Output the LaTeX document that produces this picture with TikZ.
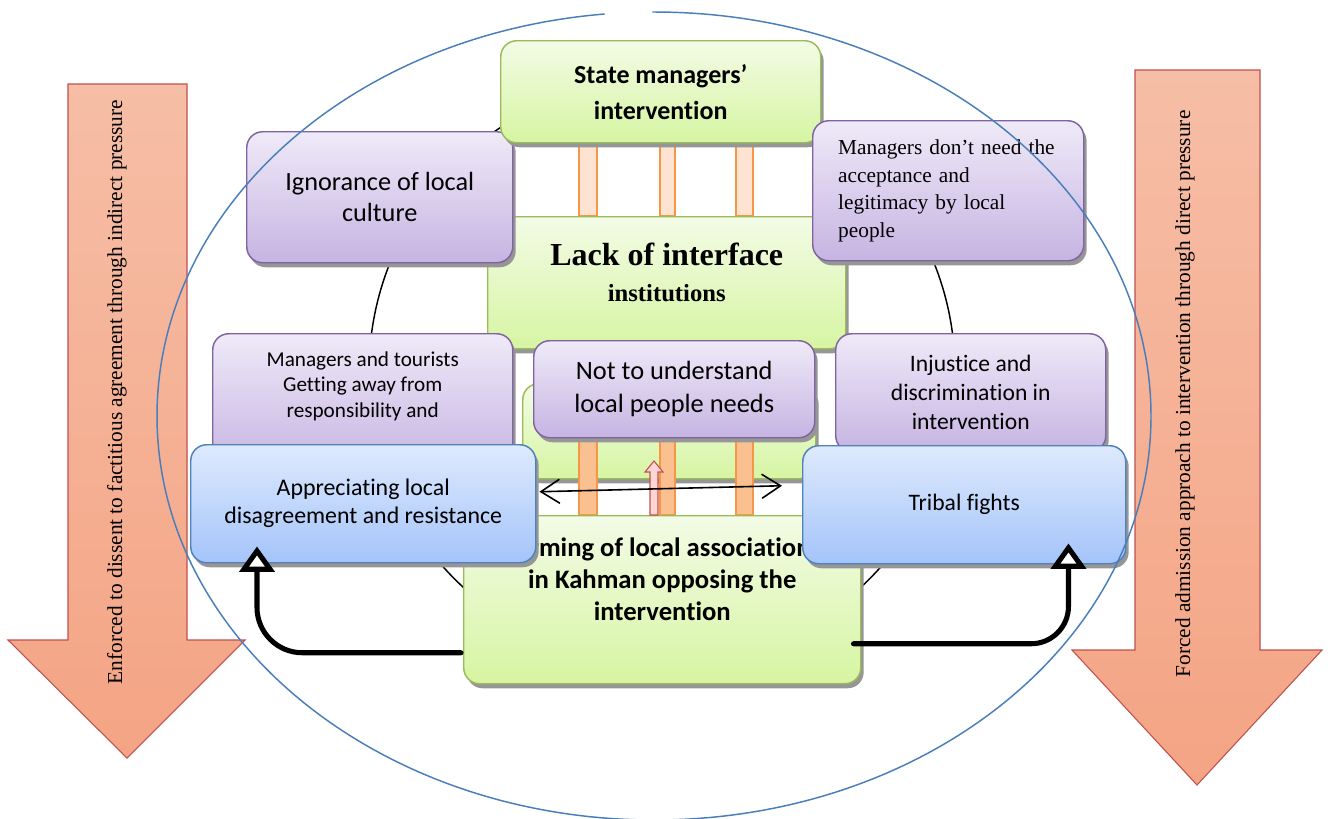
\documentclass[tikz,border=0pt]{standalone}
\usepackage{fontspec}
\setmainfont{Carlito}[Ligatures=NoCommon]
\newfontfamily\tnr{Liberation Serif}
\usetikzlibrary{shadows}
\usetikzlibrary{arrows.meta}
\usetikzlibrary{calc}
\definecolor{grnline}{RGB}{155,187,89}
\definecolor{grntop}{RGB}{243,251,230}
\definecolor{grnbot}{RGB}{214,245,162}
\definecolor{purline}{RGB}{128,100,162}
\definecolor{purtop}{RGB}{239,234,248}
\definecolor{purbot}{RGB}{198,180,226}
\definecolor{bluline}{RGB}{79,129,189}
\definecolor{blutop}{RGB}{222,234,253}
\definecolor{blubot}{RGB}{164,196,250}
\definecolor{orgline}{RGB}{247,150,70}
\definecolor{orglight}{RGB}{253,228,210}
\definecolor{orgfill}{RGB}{250,192,144}
\definecolor{redline}{RGB}{192,80,77}
\definecolor{redlight}{RGB}{255,214,214}
\definecolor{arrtop}{RGB}{246,190,166}
\definecolor{arrbot}{RGB}{244,164,132}
\definecolor{ellblue}{RGB}{74,126,187}
\definecolor{shadowgray}{RGB}{150,150,150}

\begin{document}
\begin{tikzpicture}[x=0.75pt,y=0.75pt,yscale=-1,xscale=1,
	box/.style={rounded corners=12pt, line width=1.1pt, inner sep=0pt, align=center, anchor=north west,
		drop shadow={shadow xshift=2.2pt, shadow yshift=-3.4pt, fill=shadowgray, opacity=1}},
	greenbox/.style={box, draw=grnline, top color=grntop, bottom color=grnbot},
	purplebox/.style={box, draw=purline, top color=purtop, bottom color=purbot},
	bluebox/.style={box, draw=bluline, top color=blutop, bottom color=blubot},
	pillar/.style={draw=orgline, line width=1.1pt},
	bigarrow/.style={draw=redline, line width=0.8pt, top color=arrtop, bottom color=arrbot},
	sidetext/.style={rotate=90, font=\tnr\fontsize{16}{19}\selectfont},
	uarrow/.style={line width=3.8pt, line cap=round, -{Triangle[length=19pt, width=26pt, fill=white]}},
	]
	\useasboundingbox (0,0) rectangle (1330,818);

	%Shape: Down Arrow left
	\draw[bigarrow] (68,84) -- (187,84) -- (187,640) -- (245,640) -- (127,758) -- (8,640) -- (68,640) -- cycle ;
	%Shape: Down Arrow right
	\draw[bigarrow] (1135,70) -- (1260,70) -- (1260,650) -- (1322,650) -- (1197,785) -- (1072,650) -- (1135,650) -- cycle ;
	% Text Node
	\node[sidetext] (indirect) at (117,392) {Enforced to dissent to factitious agreement through indirect pressure};
	% Text Node
	\node[sidetext] (direct) at (1185,394) {Forced admission approach to intervention through direct pressure};

	%Shape: Circle
	\draw[line width=1.1pt] (662,372) circle[radius=293] ;

	%Shape: Pillars top
	\foreach \xl/\xr in {579/597,660/675,736/753}
		\draw[pillar, fill=orglight] (\xl,142) rectangle (\xr,216) ;

	% Boxes of the upper half
	\node[greenbox, minimum width=268.5pt, minimum height=99pt, font=\tnr\bfseries\fontsize{24}{27}\selectfont] (lack) at (487,216)
		{Lack of interface\\ {\fontsize{18.5}{27}\selectfont institutions}\\[-19pt] \strut};
	\node[purplebox, minimum width=199.5pt, minimum height=98.25pt, font=\fontsize{19.7}{23.3}\selectfont] (ignor) at (246,131)
		{Ignorance of local\\ culture};
	\node[greenbox, minimum width=240pt, minimum height=76.5pt, font=\bfseries\fontsize{19.5}{27}\selectfont] (state) at (500,40)
		{State managers’\\ intervention};
	\node[purplebox, minimum width=203.25pt, minimum height=105pt, align=left, text width=165pt, inner xsep=19pt,
		font=\tnr\fontsize{16}{20.6}\selectfont] (accept) at (812,120)
		{Managers don’t need the\\ acceptance and\\ legitimacy by local\\ people};

	% Hidden box and lower pillars
	\node[greenbox, minimum width=219.75pt, minimum height=71.25pt] (hidden) at (522,383) {};
	\foreach \xl/\xr in {579/597,660/675,736/753}
		\draw[pillar, fill=orgfill] (\xl,430) rectangle (\xr,515) ;

	% Boxes of the middle row
	\node[purplebox, minimum width=210.75pt, minimum height=72.75pt, font=\fontsize{19.8}{24.8}\selectfont] (needs) at (533,340)
		{Not to understand\\ local people needs};
	\node[purplebox, minimum width=225pt, minimum height=100.5pt, font=\fontsize{15.9}{19.1}\selectfont] (tourists) at (212,333)
		{Managers and tourists\\ Getting away from\\ responsibility and\\ \strut};
	\node[purplebox, minimum width=202.5pt, minimum height=88.5pt, font=\fontsize{17.7}{21.8}\selectfont] (injust) at (835,333)
		{Injustice and\\ discrimination in\\ intervention};

	% Boxes of the lower row
	\node[greenbox, minimum width=297.75pt, minimum height=126pt, font=\bfseries\fontsize{20}{24}\selectfont] (forming) at (463,515)
		{Forming of local associations\\ in Kahman opposing the\\ intervention\\ \strut};
	\node[bluebox, minimum width=258.75pt, minimum height=88.5pt, font=\fontsize{17.9}{21}\selectfont] (appr) at (190,444)
		{Appreciating local\\ disagreement and resistance};
	\node[bluebox, minimum width=242.25pt, minimum height=88.5pt, font=\fontsize{17.7}{21}\selectfont] (tribal) at (802,445)
		{Tribal fights};

	%Shape: Up Arrow
	\draw[draw=redline, fill=redlight, line width=0.8pt] (650,515) -- (650,472) -- (645,472) -- (654,461) -- (663,472) -- (658,472) -- (658,515) -- cycle ;

	% Connectors
	\draw[line width=1.2pt, {Straight Barb[length=14pt,width=18pt]}-{Straight Barb[length=14pt,width=18pt]}]
		($(appr.east)+(3,-12)$) -- ($(tribal.west)+(-20,-19)$) ;
	\draw[uarrow, rounded corners=34pt] ($(forming.west)+(-2,53)$) -| ($(appr.south west)+(67,-17)$) ;
	\draw[uarrow, rounded corners=28pt] ($(forming.east)+(-8,44)$) -| ($(tribal.south east)+(-58,-21)$) ;

	%Shape: Ellipse
	\draw[ellblue, line width=1.1pt] (654,416) ++(269.8:497 and 404) arc[start angle=269.8, end angle=624.3, x radius=497, y radius=404] ;

\end{tikzpicture}
\end{document}
